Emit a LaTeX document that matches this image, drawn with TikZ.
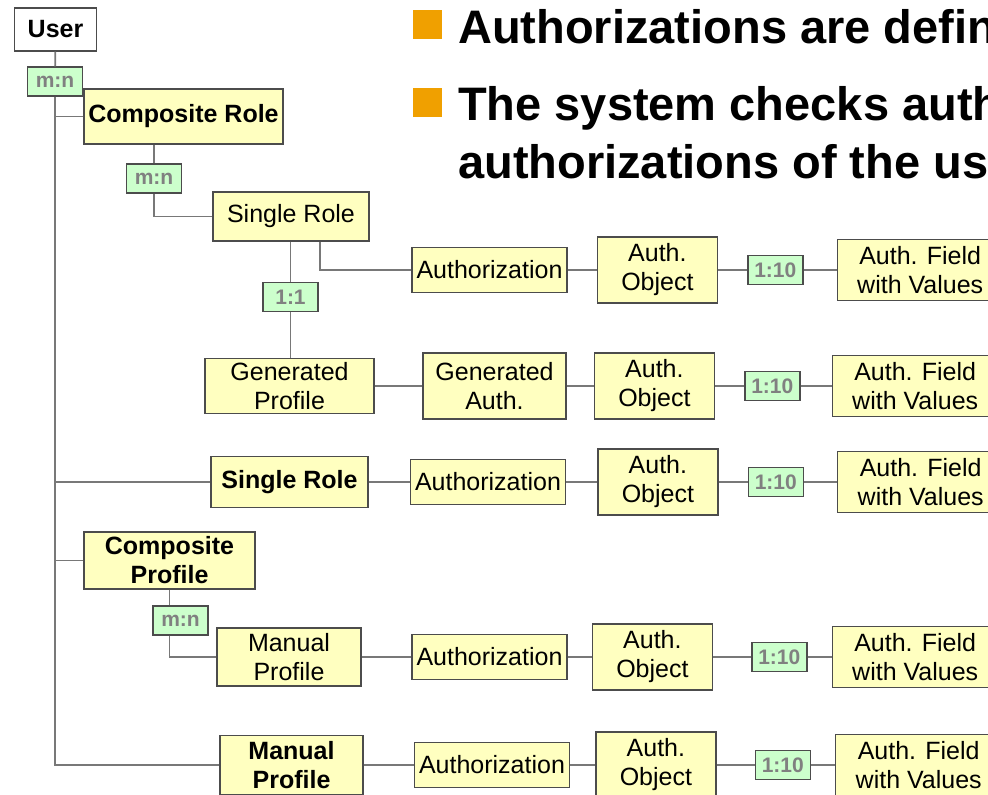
\documentclass[tikz,border=0pt]{standalone}
\usepackage{fontspec}
\setmainfont{Liberation Sans}
\usepackage{tikz}
\usetikzlibrary{shapes,arrows,positioning,calc}
\usepackage{xcolor}

\definecolor{boxyellow}{RGB}{255,255,192}
\definecolor{ratiogreen}{RGB}{204,255,204}
\definecolor{ratiotext}{RGB}{128,128,128}
\definecolor{bulletorange}{RGB}{240,160,0}
\definecolor{linkgray}{RGB}{120,120,120}

\begin{document}
\begin{tikzpicture}[
    x=1pt, y=-1pt,
    box/.style={rectangle, draw=black!70, fill=boxyellow, line width=1.4pt, inner sep=0pt, align=center, font=\fontsize{25}{29}\selectfont},
    boldbox/.style={box, font=\fontsize{25}{29}\selectfont\bfseries},
    authbox/.style={box, minimum width=155pt, minimum height=45pt},
    objbox/.style={box, minimum width=120pt, minimum height=66pt},
    fieldbox/.style={box, minimum width=166pt, minimum height=61pt},
    ratio/.style={rectangle, draw=black!70, fill=ratiogreen, text=ratiotext, line width=1.4pt, inner sep=0pt, minimum width=55pt, minimum height=29pt, font=\fontsize{21}{25}\selectfont\bfseries},
    bullet/.style={rectangle, fill=bulletorange, minimum size=29pt, inner sep=0pt},
    headline/.style={anchor=base west, inner sep=0pt, font=\fontsize{47}{56}\selectfont\bfseries},
    link/.style={draw=linkgray, line width=1.8pt}
]
\useasboundingbox (0,0) rectangle (988,795);
\clip (0,0) rectangle (988,795);

% Headline
\node[bullet] (dot1) at (427.5,24) {};
\node[headline] (line1) at (458,43) {Authorizations are defin};
\node[bullet] (dot2) at (427.5,102) {};
\node[headline] (line2) at (458,120) {The system checks auth};
\node[headline] (line3) at (458,178) {authorizations of the us};

% Tree
\node[boldbox, fill=white, minimum width=82pt, minimum height=43pt] (user) at (55.5,29.5) {User};
\node[ratio] (mn1) at (55,81.5) {m:n};
\node[boldbox, minimum width=199pt, minimum height=55pt] (crole) at (183.5,116.5) {Composite Role};
\node[ratio] (mn2) at (154,178.5) {m:n};
\node[box, minimum width=156pt, minimum height=49pt] (srole1) at (291,216.5) {Single Role};
\node[ratio] (oneone) at (290.5,297) {1:1};
\node[box, minimum width=169pt, minimum height=55pt] (gprof) at (289.5,386) {Generated\\Profile};
\node[boldbox, minimum width=157pt, minimum height=51pt] (srole2) at (289.5,482) {Single Role};
\node[boldbox, minimum width=171pt, minimum height=57pt] (cprof) at (169.5,560.5) {Composite\\Profile};
\node[ratio] (mn3) at (180.5,620.5) {m:n};
\node[box, minimum width=144pt, minimum height=58pt] (mprof1) at (289,657) {Manual\\Profile};
\node[boldbox, minimum width=143pt, minimum height=59pt] (mprof2) at (291.5,765) {Manual\\Profile};
\coordinate (trunk) at (55,765);

% Rows
\node[authbox] (auth1) at (489.5,270) {Authorization};
\node[objbox, right=29pt of auth1] (obj1) {Auth.\\Object};
\node[ratio, right=29pt of obj1] (r1) {1:10};
\node[fieldbox, right=33pt of r1] (field1) {Auth. Field\\with Values};

\node[box, minimum width=143pt, minimum height=66pt] (gauth) at (494.5,386) {Generated\\Auth.};
\node[objbox, right=27pt of gauth] (obj2) {Auth.\\Object};
\node[ratio, right=29pt of obj2] (r2) {1:10};
\node[fieldbox, right=31pt of r2] (field2) {Auth. Field\\with Values};

\node[authbox] (auth3) at (488,482) {Authorization};
\node[objbox, right=31pt of auth3] (obj3) {Auth.\\Object};
\node[ratio, right=29pt of obj3] (r3) {1:10};
\node[fieldbox, right=33pt of r3] (field3) {Auth. Field\\with Values};

\node[authbox] (auth4) at (489.5,657) {Authorization};
\node[objbox, right=24pt of auth4] (obj4) {Auth.\\Object};
\node[ratio, right=38pt of obj4] (r4) {1:10};
\node[fieldbox, right=24pt of r4] (field4) {Auth. Field\\with Values};

\node[authbox] (auth5) at (492,765) {Authorization};
\node[objbox, right=25pt of auth5] (obj5) {Auth.\\Object};
\node[ratio, right=38pt of obj5] (r5) {1:10};
\node[fieldbox, right=24pt of r5] (field5) {Auth. Field\\with Values};

% Lines
\draw[link] (user) -- (mn1);
\draw[link] (mn1) -- (trunk) -- (mprof2);
\draw[link] (crole.west -| trunk) -- (crole);
\draw[link] (srole2.west -| trunk) -- (srole2);
\draw[link] (cprof.west -| trunk) -- (cprof);
\draw[link] (crole.south -| mn2) -- (mn2);
\draw[link] (mn2) |- (srole1);
\draw[link] (oneone.north |- srole1.south) -- (oneone);
\draw[link] ([xshift=29pt]srole1.south) |- (auth1);
\draw[link] (oneone) -- (oneone |- gprof.north);
\draw[link] (cprof) -- (cprof.south |- mn3.north);
\draw[link] (cprof.south |- mn3.south) |- (mprof1);
\foreach \a/\b in {auth1/obj1, gauth/obj2, auth3/obj3, auth4/obj4, auth5/obj5, gprof/gauth, srole2/auth3, mprof1/auth4, mprof2/auth5}
    \draw[link] (\a) -- (\b);
\foreach \i in {1,...,5}
    \draw[link] (obj\i) -- (r\i) -- (field\i);

\end{tikzpicture}
\end{document}
